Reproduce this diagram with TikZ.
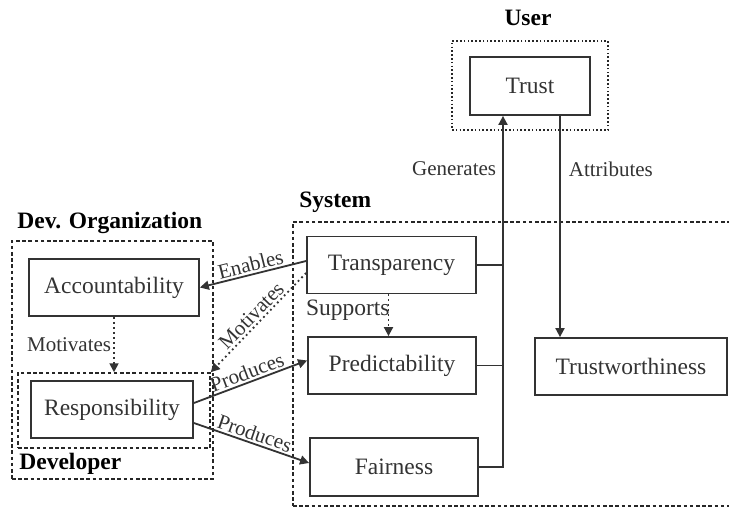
\documentclass[tikz,border=0pt]{standalone}
\usepackage{fontspec}
\setmainfont{Liberation Serif}
\usetikzlibrary{arrows.meta,calc,fit}

\begin{document}
\begin{tikzpicture}[x=0.5pt, y=-0.5pt,
	box/.style={draw=black!80, line width=0.9pt, minimum height=28.5pt, inner sep=0pt, font=\fontsize{11.75}{14}\selectfont, text=black!80},
	grp/.style={draw=black!85, line width=0.75pt, dash pattern=on 1.8pt off 1.3pt, inner sep=0pt},
	dotgrp/.style={draw=black!85, line width=0.75pt, dash pattern=on 0.8pt off 1.1pt, inner sep=0pt},
	title/.style={font=\bfseries\fontsize{11.75}{14}\selectfont, inner sep=0pt},
	lbl/.style={font=\fontsize{10.5}{12}\selectfont, text=black!80, inner sep=1pt},
	arr/.style={draw=black!80, line width=0.9pt, -{Triangle[length=4.5pt, width=4.5pt]}},
	dotarr/.style={arr, dash pattern=on 0.9pt off 1.6pt}]
			%%%%% START %%%%%
			
			\useasboundingbox (0, 0) rectangle (729, 508);
			
			\node[box, minimum width=60pt, minimum height=29pt] (trust) at (530, 86) {Trust};
			\node[box, minimum width=84.5pt] (transparency) at (391.5, 265) {Transparency};
			\node[box, minimum width=84pt] (predictability) at (392, 365.5) {Predictability};
			\node[box, minimum width=84pt, minimum height=29pt] (fairness) at (394, 467) {Fairness};
			\node[box, minimum width=96pt] (trustworthiness) at (631, 366.5) {Trustworthiness};
			\node[box, minimum width=85pt] (accountability) at (114, 287.5) {Accountability};
			\node[box, minimum width=81pt] (responsibility) at (112, 409.5) {Responsibility};
			
			\node[dotgrp, fit={(452, 41) (608, 130)}] (user) {};
			\node[grp, fit={(293, 222) (745, 506)}] (system) {};
			\node[grp, fit={(12, 241) (213, 479)}] (devorg) {};
			\node[grp, fit={(18, 373) (210, 448)}] (developer) {};
			
			\node[title] (usertitle) at (528, 18) {User};
			\node[title, anchor=west] (systemtitle) at (299, 202) {System};
			\node[title, anchor=west] (devorgtitle) at (17, 223) {Dev. Organization};
			\node[title, anchor=west] (developertitle) at (19, 464) {Developer};
			
			\coordinate (gen) at ($(trust.south)+(-27, 0)$);
			\coordinate (attr) at ($(trust.south)+(30, 0)$);
			\draw[draw=black!80, line width=0.9pt] (transparency.east) -- (transparency.east -| gen);
			\draw[draw=black!80, line width=0.9pt] (predictability.east) -- (predictability.east -| gen);
			\draw[arr] (fairness.east) -- (fairness.east -| gen) -- (gen) node[lbl, left, pos=0.85, xshift=-2pt] {Generates};
			\draw[arr] (attr) -- (attr |- trustworthiness.north) node[lbl, right, pos=0.24, xshift=3pt] {Attributes};
			
			\draw[arr] ($(transparency.west)+(0, -4)$) -- (accountability.east) node[lbl, midway, above, sloped] {Enables};
			\draw[dotarr] ($(transparency.west)+(0, 8)$) -- (developer.north east) node[lbl, midway, above, sloped] {Motivates};
			\draw[dotarr] (accountability.south) -- (accountability.south |- developer.north) node[lbl, midway, left] {Motivates};
			\coordinate (sup) at ($(transparency.south)+(-3, 0)$);
			\draw[dotarr] (sup) -- (sup |- predictability.north) node[lbl, midway, left, font=\fontsize{11.75}{14}\selectfont, xshift=2pt, yshift=2.5pt] {Supports};
			
			\draw[arr] ($(responsibility.east)+(0, -6.5)$) -- ($(predictability.west)+(0, -5)$) node[lbl, midway, above, sloped] {Produces};
			\draw[arr] ($(responsibility.east)+(0, 13.5)$) -- ($(fairness.west)+(0, -4)$) node[lbl, midway, above, sloped] {Produces};
			
			%%%%% END %%%%%
		\end{tikzpicture}
\end{document}
